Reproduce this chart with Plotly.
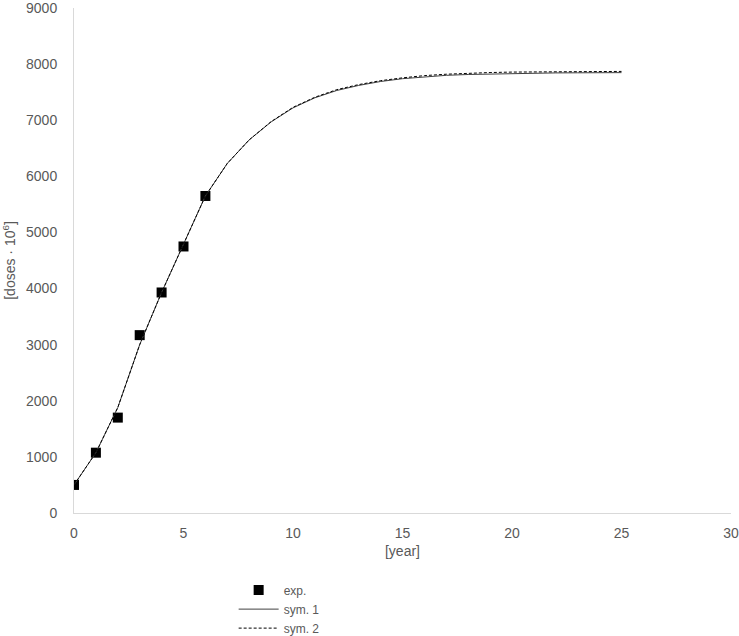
import plotly.graph_objects as go

# Experimental data
exp_year = [0, 1, 2, 3, 4, 5, 6]
exp_doses = [500, 1075, 1700, 3170, 3930, 4750, 5650]

# Simulations
sym_year = list(range(0, 26))
sym1_doses = [500, 1075, 1880, 3000, 3930, 4780, 5650, 6230, 6650, 6970, 7220, 7400, 7530,
              7620, 7690, 7740, 7775, 7800, 7815, 7825, 7835, 7840, 7843, 7845, 7847, 7848]
sym2_doses = [500, 1075, 1880, 3000, 3930, 4780, 5650, 6230, 6650, 6975, 7230, 7410, 7545,
              7635, 7705, 7755, 7795, 7820, 7838, 7850, 7858, 7863, 7866, 7868, 7870, 7870]

x_ticks = [0, 5, 10, 15, 20, 25, 30]
y_ticks = [0, 1000, 2000, 3000, 4000, 5000, 6000, 7000, 8000, 9000]

fig = go.Figure()
fig.add_trace(go.Scatter(x=exp_year, y=exp_doses, mode="markers", name="exp.",
                         marker=dict(symbol="square", size=10, color="black")))
fig.add_trace(go.Scatter(x=sym_year, y=sym1_doses, mode="lines", name="sym. 1",
                         line=dict(color="#404040", width=1)))
fig.add_trace(go.Scatter(x=sym_year, y=sym2_doses, mode="lines", name="sym. 2",
                         line=dict(color="black", width=1, dash="3px,2px")))

axis_font = dict(family="Liberation Sans, Arial, sans-serif", size=14, color="#595959")

fig.update_layout(
    width=739, height=636,
    margin=dict(l=74, r=8, t=8, b=123, autoexpand=False),
    paper_bgcolor="white", plot_bgcolor="white",
    font=axis_font,
    showlegend=True,
    legend=dict(x=0.243, y=-0.124, xanchor="left", yanchor="top",
                orientation="v", font=dict(size=12, color="#595959"),
                tracegroupgap=0, itemwidth=40, bgcolor="rgba(0,0,0,0)"),
    xaxis=dict(range=[0, 30], tickvals=x_ticks, showgrid=False, zeroline=False,
               showline=True, linecolor="#d9d9d9", linewidth=1, ticks="",
               tickfont=axis_font, ticklabelstandoff=7, ticklabeloverflow="allow",
               title=dict(text="[year]", font=axis_font, standoff=6)),
    yaxis=dict(range=[0, 9000], tickvals=y_ticks, showgrid=False, zeroline=False,
               showline=True, linecolor="#d9d9d9", linewidth=1, ticks="",
               tickfont=axis_font, ticklabelstandoff=13, ticklabeloverflow="allow",
               title=dict(text="[doses · 10<sup>6</sup>]", font=axis_font, standoff=8)),
)

fig.write_html("out.html")
